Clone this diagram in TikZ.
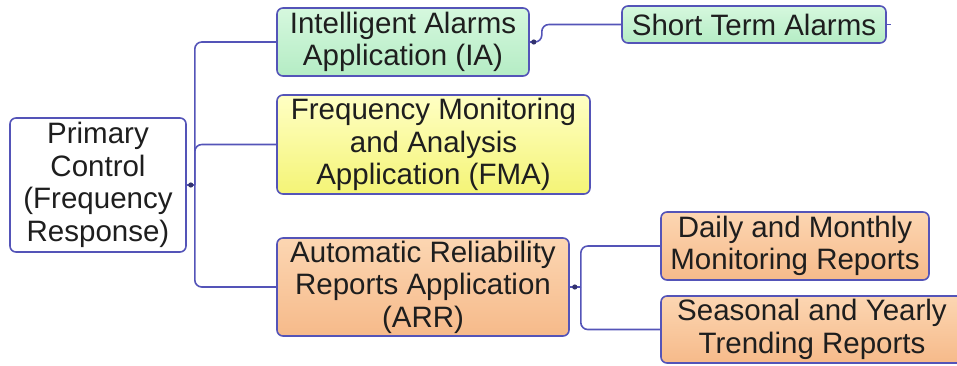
\documentclass[tikz,border=0pt]{standalone}
\usepackage{fontspec}
\setmainfont{Liberation Sans}
\usetikzlibrary{calc}
\definecolor{edge}{RGB}{84,84,184}
\definecolor{txt}{RGB}{30,30,30}
\definecolor{gtop}{RGB}{214,248,222}
\definecolor{gbot}{RGB}{180,236,196}
\definecolor{ytop}{RGB}{255,255,196}
\definecolor{ybot}{RGB}{244,244,118}
\definecolor{otop}{RGB}{252,214,178}
\definecolor{obot}{RGB}{246,186,138}
\tikzset{
  box/.style={draw=edge, line width=1.6pt, rounded corners=6pt, align=center,
    inner sep=0pt, text=txt, font=\fontsize{29.5}{32.5}\selectfont},
  greenbox/.style={box, top color=gtop, bottom color=gbot},
  yellowbox/.style={box, top color=ytop, bottom color=ybot},
  orangebox/.style={box, top color=otop, bottom color=obot},
  whitebox/.style={box, fill=white},
  conn/.style={draw=edge, line width=1.6pt, rounded corners=7pt},
  knob/.style={fill=edge!60!black}
}
\begin{document}
\begin{tikzpicture}[x=1pt,y=-1pt]
\useasboundingbox (0,0) rectangle (957,365);
\begin{scope}
\clip (0,0) rectangle (957,365);
% nodes
\node[whitebox, minimum width=176pt, minimum height=134pt] (P) at (98,185) {Primary\\Control\\(Frequency\\Response)};
\node[greenbox, minimum width=252pt, minimum height=68pt] (IA) at (403,42) {Intelligent Alarms\\Application (IA)};
\node[greenbox, minimum width=264pt, minimum height=37pt] (ST) at (754,24.5) {Short Term Alarms};
\node[yellowbox, minimum width=313pt, minimum height=99pt] (FMA) at (433.5,144.5) {Frequency Monitoring\\and Analysis\\Application (FMA)};
\node[orangebox, minimum width=292pt, minimum height=98pt] (ARR) at (423,287) {Automatic Reliability\\Reports Application\\(ARR)};
\node[orangebox, minimum width=268pt, minimum height=68pt] (D) at (795,246) {Daily and Monthly\\Monitoring Reports};
\node[orangebox, minimum width=302pt, minimum height=67pt] (S) at (812,329.5) {Seasonal and Yearly\\Trending Reports};
% connectors
\coordinate (pb) at ($(P.east)+(8,0)$);
\draw[conn] (P.east) -- (pb);
\draw[conn] (pb) |- (IA.west);
\draw[conn] (pb) |- (FMA.west);
\draw[conn] (pb) |- (ARR.west);
\fill[knob] ($(P.east)+(4,0)$) circle (2.6pt);
\coordinate (ib) at ($(IA.east)+(12,0)$);
\draw[conn] (ST.west) -| (ib) -- (IA.east);
\fill[knob] ($(IA.east)+(4,0)$) circle (2.6pt);
\coordinate (se) at ($(ST.east)+(4,0)$);
\draw[draw=edge, line width=1.6pt] (ST.east) -- (se);
\coordinate (ab) at ($(ARR.east)+(11,0)$);
\draw[conn] (ARR.east) -- (ab);
\draw[conn] (ab) |- (D.west);
\draw[conn] (ab) |- (S.west);
\fill[knob] ($(ARR.east)+(5,0)$) circle (2.6pt);
\end{scope}
\end{tikzpicture}
\end{document}
